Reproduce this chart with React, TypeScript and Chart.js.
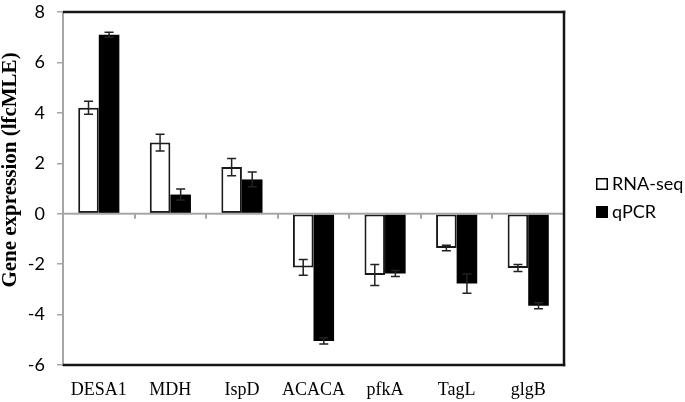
import React, { useEffect, useRef } from "react";
import { Chart, registerables } from "chart.js";

Chart.register(...registerables);

const categories = ["DESA1", "MDH", "IspD", "ACACA", "pfkA", "TagL", "glgB"];
const rnaSeq = [4.2, 2.82, 1.85, -2.13, -2.43, -1.36, -2.15];
const rnaSeqErr = [0.26, 0.33, 0.34, 0.31, 0.42, 0.11, 0.14];
const qpcr = [7.1, 0.76, 1.36, -5.05, -2.37, -2.77, -3.65];
const qpcrErr = [0.1, 0.22, 0.29, 0.12, 0.12, 0.38, 0.12];
const yTicks = [-6, -4, -2, 0, 2, 4, 6, 8];
const seriesNames = ["RNA-seq", "qPCR"];
const yTitle = "Gene expression (lfcMLE)";
const errs = [rnaSeqErr, qpcrErr];

const SANS = "Lato, 'Open Sans', sans-serif";
const SERIF = "'Liberation Serif', 'Times New Roman', serif";
const GRAY = "#a6a6a6";
const FRAME = "#151515";

const overlayPlugin = {
  id: "overlay",
  afterDraw(chart: any) {
    const ctx = chart.ctx;
    const ca = chart.chartArea;
    const yScale = chart.scales.y;
    const y0 = yScale.getPixelForValue(0);
    ctx.save();
    // zero line + category boundary ticks
    ctx.fillStyle = GRAY;
    ctx.fillRect(ca.left, y0 - 1, ca.right - ca.left, 2);
    const n = categories.length;
    const w = (ca.right - ca.left) / n;
    for (let i = 1; i < n; i++) {
      const x = Math.round(ca.left + i * w);
      ctx.fillRect(x - 1, y0, 2, 5);
    }
    // frame top/right/bottom
    ctx.fillStyle = FRAME;
    ctx.fillRect(ca.left, ca.top - 1.25, ca.right - ca.left + 1.25, 2.5);
    ctx.fillRect(ca.right - 1.25, ca.top - 1.25, 2.5, ca.bottom - ca.top + 2.5);
    ctx.fillRect(ca.left, ca.bottom - 1.25, ca.right - ca.left + 1.25, 2.5);
    // error bars
    ctx.strokeStyle = "#222";
    ctx.lineWidth = 1.5;
    for (let di = 0; di < chart.data.datasets.length; di++) {
      const ds = chart.data.datasets[di];
      const meta = chart.getDatasetMeta(di);
      for (let i = 0; i < meta.data.length; i++) {
        const bar = meta.data[i];
        const v = ds.data[i];
        const e = errs[di][i];
        const x = bar.x;
        const yt = yScale.getPixelForValue(v + e);
        const yb = yScale.getPixelForValue(v - e);
        const cap = 4.5;
        ctx.beginPath();
        ctx.moveTo(x, yt);
        ctx.lineTo(x, yb);
        ctx.moveTo(x - cap, yt);
        ctx.lineTo(x + cap, yt);
        ctx.moveTo(x - cap, yb);
        ctx.lineTo(x + cap, yb);
        ctx.stroke();
      }
    }
    // y title
    ctx.save();
    ctx.translate(11, 170);
    ctx.rotate(-Math.PI / 2);
    ctx.font = "bold 21px " + SERIF;
    ctx.fillStyle = "#000";
    ctx.textAlign = "center";
    ctx.textBaseline = "middle";
    ctx.fillText(yTitle, 0, 0);
    ctx.restore();
    // legend
    const lx = 597;
    const ys = [184, 212];
    const fills = ["#fff", "#000"];
    ctx.font = "18px " + SANS;
    ctx.textBaseline = "middle";
    ctx.textAlign = "left";
    for (let i = 0; i < 2; i++) {
      ctx.fillStyle = "#000";
      ctx.fillRect(lx - 1, ys[i] - 6, 12, 12);
      ctx.fillStyle = fills[i];
      ctx.fillRect(lx + 0.5, ys[i] - 4.5, 9, 9);
      ctx.fillStyle = "#000";
      ctx.fillText(seriesNames[i], lx + 15, ys[i]);
    }
    ctx.restore();
  },
};

export default function App() {
  const ref = useRef<HTMLCanvasElement | null>(null);
  useEffect(() => {
    if (!ref.current) return;
    const chart = new Chart(ref.current, {
      type: "bar",
      data: {
        labels: categories,
        datasets: [
          { label: seriesNames[0], data: rnaSeq, backgroundColor: "#ffffff", borderColor: "#1a1a1a", borderWidth: 2, borderSkipped: false },
          { label: seriesNames[1], data: qpcr, backgroundColor: "#000000", borderColor: "#000000", borderWidth: 0 },
        ],
      },
      options: {
        animation: false,
        responsive: false,
        maintainAspectRatio: false,
        layout: { padding: { left: 0, right: 121, top: 12, bottom: 0 } },
        datasets: { bar: { categoryPercentage: 0.575, barPercentage: 1 } },
        plugins: { legend: { display: false }, tooltip: { enabled: false } },
        scales: {
          x: {
            grid: { display: false },
            border: { display: true, color: FRAME, width: 2 },
            ticks: { color: "#000", font: { family: SERIF, size: 18 }, padding: 6, maxRotation: 0 },
            afterFit: (s: any) => { s.height = 37; s.paddingLeft = 0; s.paddingRight = 0; },
          },
          y: {
            min: -6,
            max: 8,
            afterBuildTicks: (s: any) => { s.ticks = yTicks.map((v) => ({ value: v })); },
            grid: { drawOnChartArea: false, drawTicks: true, tickLength: 6, color: GRAY, lineWidth: 1.5 },
            border: { display: true, color: GRAY, width: 2 },
            ticks: { color: "#000", font: { family: SANS, size: 18 }, padding: 12 },
            afterFit: (s: any) => { s.width = 63; s.paddingTop = 0; s.paddingBottom = 0; },
          },
        },
      },
      plugins: [overlayPlugin],
    });
    return () => chart.destroy();
  }, []);
  return (
    <div style={{ position: "fixed", left: 0, top: 0, width: 685, height: 402, background: "#fff" }}>
      <canvas ref={ref} width={685} height={402} style={{ width: 685, height: 402, display: "block" }} />
    </div>
  );
}
